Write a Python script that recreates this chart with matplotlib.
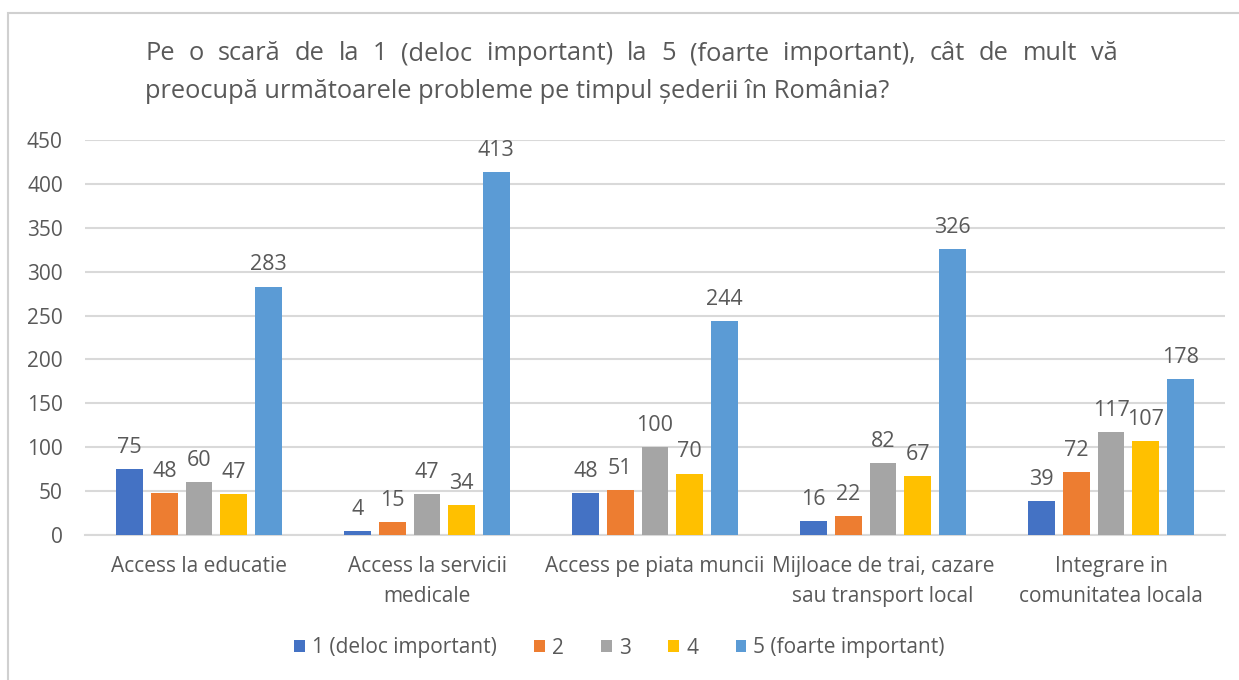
import matplotlib.pyplot as plt
import numpy as np
from matplotlib.patches import Rectangle

# data
categories = ["Access la educatie", "Access la servicii\nmedicale", "Access pe piata muncii",
              "Mijloace de trai, cazare\nsau transport local", "Integrare in\ncomunitatea locala"]
series_names = ["1 (deloc important)", "2", "3", "4", "5 (foarte important)"]
vals_1 = [75, 4, 48, 16, 39]
vals_2 = [48, 15, 51, 22, 72]
vals_3 = [60, 47, 100, 82, 117]
vals_4 = [47, 34, 70, 67, 107]
vals_5 = [283, 413, 244, 326, 178]
colors = ["#4472C4", "#ED7D31", "#A5A5A5", "#FFC000", "#5B9BD5"]
yticks = [0, 50, 100, 150, 200, 250, 300, 350, 400, 450]
title_1 = "Pe o scară de la 1 (deloc important) la 5 (foarte important), cât de mult vă"
title_2 = "preocupă următoarele probleme pe timpul șederii în România?"

plt.rcParams['font.family'] = ['Open Sans', 'DejaVu Sans']
txt = "#595959"
grid = "#D9D9D9"
W, H = 1239, 680

fig = plt.figure(figsize=(W / 100, H / 100), dpi=100)
# outer chart border
fig.patches.append(Rectangle((8 / W, -0.05), 1.1, 1 - 13 / H + 0.05, transform=fig.transFigure,
                             fill=False, edgecolor="#D0D0D0", linewidth=1.5))

ax = fig.add_axes([85 / W, 1 - 535 / H, 1140 / W, 395 / H])
x = np.arange(len(categories))
pitch = 0.152
width = 0.118
all_vals = [vals_1, vals_2, vals_3, vals_4, vals_5]
for i, (vals, name, c) in enumerate(zip(all_vals, series_names, colors)):
    pos = x + (i - 2) * pitch
    bars = ax.bar(pos, vals, width, color=c, label=name, zorder=3)
    for b, v in zip(bars, vals):
        ax.annotate(str(v), (b.get_x() + b.get_width() / 2, v), xytext=(0, 8),
                    textcoords="offset points", ha="center", va="bottom",
                    fontsize=15.5, color=txt)

ax.set_xlim(-0.5, len(categories) - 0.5)
ax.set_ylim(0, 450)
ax.set_yticks(yticks)
ax.yaxis.grid(True, color=grid, linewidth=1.5, zorder=0)
for s in ["top", "right", "left"]:
    ax.spines[s].set_visible(False)
ax.spines["bottom"].set_color(grid)
ax.spines["bottom"].set_linewidth(1.5)
ax.tick_params(axis="y", length=0, labelsize=15, labelcolor=txt, pad=16)
ax.tick_params(axis="x", length=0, labelsize=15, labelcolor=txt, pad=15)
ax.set_xticks(x)
ax.set_xticklabels(categories, linespacing=1.6, va="top")

# title: first line justified between x=145 and x=1118, second line left aligned
renderer = fig.canvas.get_renderer()
tsize = 18.3
words = title_1.split(" ")
objs = [fig.text(0, 1 - 54 / H, w, fontsize=tsize, color=txt, va="center", ha="left") for w in words]
widths = [o.get_window_extent(renderer).width for o in objs]
gap = (1118 - 145 - sum(widths)) / (len(words) - 1)
xpos = 145
for o, wd in zip(objs, widths):
    o.set_x(xpos / W)
    xpos += wd + gap
fig.text(145 / W, 1 - 91 / H, title_2, fontsize=tsize, color=txt, va="center", ha="left")

fig.legend(loc="center", bbox_to_anchor=(0.5, 1 - 648 / H), ncol=5, frameon=False,
           fontsize=15, labelcolor=txt, handlelength=0.5, handleheight=0.5,
           handletextpad=0.35, columnspacing=1.8)

fig.savefig("out.png", dpi=100)
